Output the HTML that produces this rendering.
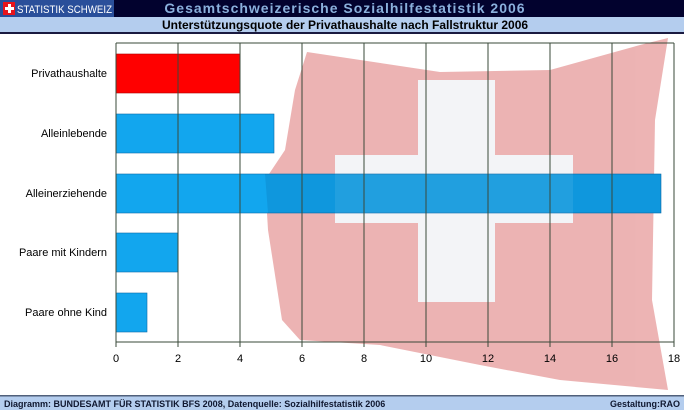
<!DOCTYPE html>
<html><head><meta charset="utf-8"><style>
body{margin:0;width:684px;height:410px;overflow:hidden;background:#fff;font-family:"Liberation Sans",Arial,sans-serif}
</style></head><body>
<svg width="684" height="410" xmlns="http://www.w3.org/2000/svg" font-family="Liberation Sans, Arial, sans-serif">
<rect x="0" y="0" width="684" height="17" fill="#02022e"/>
<rect x="0" y="0" width="114" height="17" fill="#2a4f9a"/>
<rect x="3" y="2" width="12" height="13" fill="#e8141c"/>
<rect x="8" y="4" width="3" height="9" fill="#fff"/><rect x="5" y="7" width="9" height="3" fill="#fff"/>
<text x="17" y="13" font-size="11" fill="#fff" textLength="95" lengthAdjust="spacingAndGlyphs">STATISTIK SCHWEIZ</text>
<text x="345" y="13" font-size="14" font-weight="bold" fill="#8ab0dc" text-anchor="middle" letter-spacing="1">Gesamtschweizerische Sozialhilfestatistik 2006</text>
<rect x="0" y="17" width="684" height="15" fill="#b4cdee"/>
<rect x="0" y="32" width="684" height="2" fill="#1a1a40"/>
<text x="345" y="29" font-size="12" font-weight="bold" fill="#000" text-anchor="middle">Unterstützungsquote der Privathaushalte nach Fallstruktur 2006</text>

<g opacity="0.38">
<polygon points="307,52 440,72 550,70 640,45 668,38 655,120 652,300 668,390 560,380 480,365 380,345 300,340 282,320 268,230 265,180 285,150 295,90" fill="#cf3a3a"/>
<polygon points="418,80 495,80 495,155 573,155 573,223 495,223 495,302 418,302 418,223 335,223 335,155 418,155" fill="#e0e4ec"/>
</g>
<g fill="#12a6ee" stroke="#0a6aa8" stroke-width="0.6">
<rect x="116" y="54" width="124" height="39" fill="#ff0000" stroke="#a00"/>
<rect x="116" y="114" width="158" height="39"/>
<rect x="116" y="174" width="545" height="39"/>
<rect x="116" y="233" width="62" height="39"/>
<rect x="116" y="293" width="31" height="39"/>
</g>
<polygon points="265,174 661,174 661,213 268,213" fill="#003060" opacity="0.12"/>
<rect x="335" y="174" width="238" height="39" fill="#fff" opacity="0.08"/>
<g stroke="#3a4a3a" stroke-width="1">
<line x1="116" y1="43" x2="674" y2="43"/>
<line x1="116" y1="342" x2="674" y2="342"/>
<line x1="116" y1="43" x2="116" y2="347"/>
<line x1="178" y1="43" x2="178" y2="347"/>
<line x1="240" y1="43" x2="240" y2="347"/>
<line x1="302" y1="43" x2="302" y2="347"/>
<line x1="364" y1="43" x2="364" y2="347"/>
<line x1="426" y1="43" x2="426" y2="347"/>
<line x1="488" y1="43" x2="488" y2="347"/>
<line x1="550" y1="43" x2="550" y2="347"/>
<line x1="612" y1="43" x2="612" y2="347"/>
<line x1="674" y1="43" x2="674" y2="347"/>
</g>
<g font-size="11" fill="#000" text-anchor="end">
<text x="107" y="77">Privathaushalte</text>
<text x="107" y="137">Alleinlebende</text>
<text x="107" y="197">Alleinerziehende</text>
<text x="107" y="256">Paare mit Kindern</text>
<text x="107" y="316">Paare ohne Kind</text>
</g>
<g font-size="11" fill="#000" text-anchor="middle">
<text x="116" y="362">0</text><text x="178" y="362">2</text><text x="240" y="362">4</text><text x="302" y="362">6</text><text x="364" y="362">8</text><text x="426" y="362">10</text><text x="488" y="362">12</text><text x="550" y="362">14</text><text x="612" y="362">16</text><text x="674" y="362">18</text>
</g>
<rect x="0" y="395" width="684" height="15" fill="#b4cdee"/>
<rect x="0" y="395" width="684" height="1.5" fill="#50607a"/>
<text x="4" y="407" font-size="9" font-weight="bold" fill="#101830">Diagramm: BUNDESAMT FÜR STATISTIK BFS 2008,  Datenquelle: Sozialhilfestatistik 2006</text>
<text x="680" y="407" font-size="9" font-weight="bold" fill="#101830" text-anchor="end">Gestaltung:RAO</text>
</svg>
</body></html>
